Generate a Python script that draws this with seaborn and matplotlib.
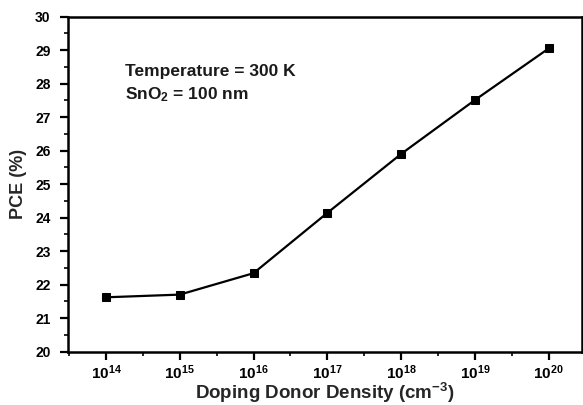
import numpy as np
import pandas as pd
import matplotlib
matplotlib.use("Agg")
import matplotlib.pyplot as plt
import matplotlib.ticker as mticker
import seaborn as sns

# Donor doping density (cm^-3) and the resulting power conversion efficiency
donor_exponent = [14, 15, 16, 17, 18, 19, 20]
pce_percent = [21.62, 21.70, 22.34, 24.14, 25.90, 27.51, 29.05]
y_ticks = [20, 21, 22, 23, 24, 25, 26, 27, 28, 29, 30]

df = pd.DataFrame({
    "density": [10.0 ** e for e in donor_exponent],
    "pce": pce_percent,
})

sns.set_style("ticks")
plt.rcParams["font.family"] = ["Liberation Sans", "DejaVu Sans"]
plt.rcParams["font.weight"] = "bold"
plt.rcParams["mathtext.fontset"] = "custom"
plt.rcParams["mathtext.rm"] = "Liberation Sans:bold"
plt.rcParams["mathtext.bf"] = "Liberation Sans:bold"
plt.rcParams["mathtext.it"] = "Liberation Sans:bold"
plt.rcParams["mathtext.default"] = "bf"

fig = plt.figure(figsize=(5.83, 4.05), dpi=100)
ax = fig.add_axes([0.1166, 0.132, 0.8814, 0.8268])

sns.lineplot(data=df, x="density", y="pce", ax=ax, color="black",
             marker="s", markersize=5.5, markeredgecolor="black",
             linewidth=1.6)

ax.set_xscale("log")
ax.set_xlim(10 ** 13.485, 10 ** 20.45)
ax.set_ylim(20, 30)
ax.set_yticks(y_ticks)
ax.yaxis.set_minor_locator(mticker.MultipleLocator(0.5))
ax.xaxis.set_major_locator(mticker.FixedLocator([10.0 ** e for e in donor_exponent]))
ax.xaxis.set_major_formatter(mticker.FuncFormatter(
    lambda v, pos: "10$^{%d}$" % round(np.log10(v))))
ax.xaxis.set_minor_locator(mticker.FixedLocator([10.0 ** (e + 0.5) for e in range(13, 21)]))
ax.xaxis.set_minor_formatter(mticker.NullFormatter())

for side in ["left", "bottom", "top", "right"]:
    ax.spines[side].set_linewidth(1.8)
    ax.spines[side].set_color("black")

ax.tick_params(which="major", direction="out", length=5.5, width=1.6,
               colors="black", top=False, right=False)
ax.tick_params(which="minor", direction="out", length=3, width=1.4,
               top=False, right=False)
ax.tick_params(axis="y", which="major", labelsize=10, pad=7)
ax.tick_params(axis="x", which="major", labelsize=11, pad=3)
for lab in ax.get_yticklabels() + ax.get_xticklabels():
    lab.set_fontweight("bold")

ax.set_xlabel("Doping Donor Density (cm$^{-3}$)", fontsize=13.5, fontweight="bold", labelpad=-1)
ax.set_ylabel("PCE (%)", fontsize=13, fontweight="bold", labelpad=6)

ax.text(0.11, 0.822, "Temperature = 300 K", transform=ax.transAxes,
        fontsize=12.5, fontweight="bold", color="#1a1a1a")
ax.text(0.11, 0.752, "SnO$_2$ = 100 nm", transform=ax.transAxes,
        fontsize=12.5, fontweight="bold", color="#1a1a1a")

fig.savefig("out.png", dpi=100)
